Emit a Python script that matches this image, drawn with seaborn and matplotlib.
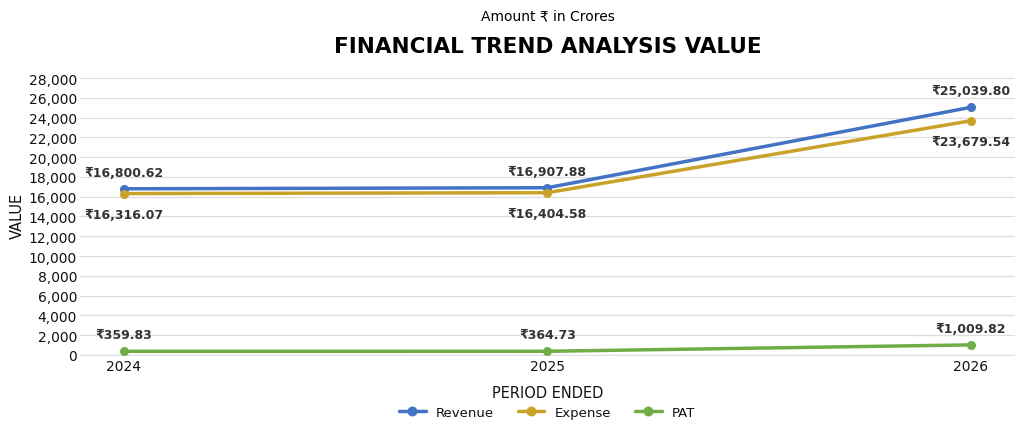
import pandas as pd
import seaborn as sns
import matplotlib.pyplot as plt
from matplotlib.ticker import FuncFormatter

# data
years = [2024, 2025, 2026]
revenue = [16800.62, 16907.88, 25039.80]
expense = [16316.07, 16404.58, 23679.54]
pat = [359.83, 364.73, 1009.82]

series_names = ['Revenue', 'Expense', 'PAT']
colors = ['#4472C4', '#C9A22A', '#70AD47']

df = pd.DataFrame({
    'PERIOD ENDED': years * 3,
    'VALUE': revenue + expense + pat,
    'Series': ['Revenue'] * 3 + ['Expense'] * 3 + ['PAT'] * 3,
})

sns.set_theme(style='whitegrid')
plt.rcParams['font.family'] = ['DejaVu Sans']
plt.rcParams['text.color'] = 'black'

fig = plt.figure(figsize=(10.24, 4.31), dpi=100)
ax = fig.add_axes([0.078, 0.172, 0.913, 0.656])

sns.lineplot(data=df, x='PERIOD ENDED', y='VALUE', hue='Series',
             hue_order=series_names, palette=colors, marker='o',
             markersize=6.5, markeredgewidth=0, linewidth=2.5, ax=ax)

# grid / spines
ax.grid(axis='x', visible=False)
ax.grid(axis='y', color='#dddddd', linewidth=0.9)
for s in ax.spines.values():
    s.set_visible(False)

ax.set_xlim(2023.896, 2026.104)
ax.set_ylim(-100, 28500)
ax.set_xticks(years)
ax.set_yticks(range(0, 28001, 2000))
ax.yaxis.set_major_formatter(FuncFormatter(lambda v, p: f'{v:,.0f}'))
ax.tick_params(axis='both', labelsize=10, pad=2, colors='#111111', length=0)

ax.set_xlabel('PERIOD ENDED', fontsize=10.5, labelpad=9, color='#111111')
ax.set_ylabel('VALUE', fontsize=10.5, labelpad=3, color='#111111')

# data labels
offsets = {'Revenue': 12, 'Expense': -15, 'PAT': 12}
values = {'Revenue': revenue, 'Expense': expense, 'PAT': pat}
for name in series_names:
    for x, v in zip(years, values[name]):
        ax.annotate(f'₹{v:,.2f}', (x, v), xytext=(0, offsets[name]),
                    textcoords='offset points', ha='center', va='center',
                    fontsize=9, fontweight='bold', color='#333333')

leg = ax.legend(loc='center', bbox_to_anchor=(0.5, -0.2), ncol=3, frameon=False,
                fontsize=9.5, handlelength=2.0, columnspacing=1.8, handletextpad=0.8,
                markerscale=1.1)
for t in leg.get_texts():
    t.set_color('#111111')

fig.text(0.535, 0.963, 'Amount ₹ in Crores', ha='center', va='center',
         fontsize=10, color='black')
fig.text(0.535, 0.89, 'FINANCIAL TREND ANALYSIS VALUE', ha='center', va='center',
         fontsize=15.5, fontweight='bold', color='black')

plt.savefig('out.png', dpi=100)
